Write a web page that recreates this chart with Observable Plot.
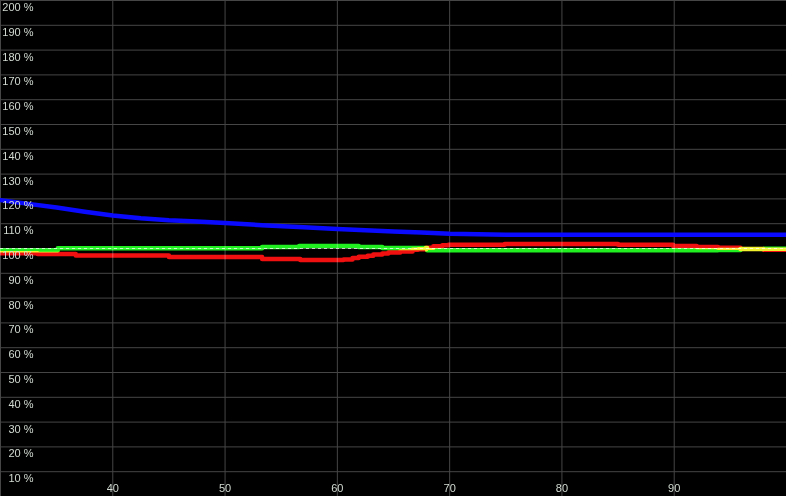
<!DOCTYPE html>
<html>
<head>
<meta charset="utf-8">
<script src="https://cdn.jsdelivr.net/npm/d3@7"></script>
<script src="https://cdn.jsdelivr.net/npm/@observablehq/plot@0.6"></script>
<style>
  html, body { margin: 0; padding: 0; background: #000; }
  #chart { width: 786px; height: 496px; overflow: hidden; }
</style>
</head>
<body>
<div id="chart"></div>
<script>
// Tick values and labels
const xTicks = [40, 50, 60, 70, 80, 90];
const xTickLabels = ["40", "50", "60", "70", "80", "90"];
const yTicks = [10, 20, 30, 40, 50, 60, 70, 80, 90, 100, 110, 120, 130, 140, 150, 160, 170, 180, 190, 200];
const yTickLabels = ["10 %", "20 %", "30 %", "40 %", "50 %", "60 %", "70 %", "80 %", "90 %", "100 %",
  "110 %", "120 %", "130 %", "140 %", "150 %", "160 %", "170 %", "180 %", "190 %", "200 %"];

// Blue series (smooth)
const blueX = [30, 32.5, 35, 37.5, 40, 42.5, 45, 47.5, 50, 53.3, 57, 60, 62.5, 65, 67.5, 70, 75, 80, 85, 90, 95, 100];
const blueY = [119.5, 118.0, 116.5, 114.8, 113.3, 112.2, 111.4, 110.9, 110.3, 109.4, 108.6, 107.9, 107.4, 106.9, 106.5, 105.9, 105.5, 105.5, 105.5, 105.5, 105.5, 105.5];

// Red series (stepped)
const redX = [30, 33.3, 36.7, 45.0, 53.3, 56.7, 60.55, 61.35, 61.9, 62.7, 63.2, 64.0, 64.55, 65.6, 66.7, 67.2, 67.9, 68.55, 69.35, 69.9, 74.9, 85.0, 89.9, 92.0, 93.9, 95.9, 97.95, 100];
const redY = [98.1, 97.8, 97.2, 96.6, 95.8, 95.4, 95.6, 96.2, 96.7, 97.1, 97.6, 98.0, 98.4, 98.8, 99.5, 99.7, 100.3, 100.9, 101.3, 101.5, 101.8, 101.5, 101.0, 100.6, 100.3, 99.8, 99.5, 99.5];

// Green series (stepped)
const greenX = [30, 35.1, 53.3, 56.6, 61.9, 64.0, 68.0, 93.9, 95.9, 97.95, 100];
const greenY = [99.3, 100.1, 100.6, 101.0, 100.6, 100.2, 99.3, 99.4, 99.8, 99.9, 99.9];

const toRows = (xs, ys) => xs.map((x, i) => ({x, y: ys[i]}));
const blue = toRows(blueX, blueY);
const red = toRows(redX, redY);
const green = toRows(greenX, greenY);

const gridColor = "#464646";
const textColor = "#d2dad2";
const font = "Liberation Sans, Arial, sans-serif";

const chart = Plot.plot({
  width: 786,
  height: 496,
  margin: 0,
  style: {background: "#000", fontFamily: font},
  x: {domain: [30, 100], axis: null},
  y: {domain: [0, 200], axis: null},
  marks: [
    Plot.frame({fill: "#000", stroke: null}),
    Plot.ruleY(yTicks, {stroke: gridColor, strokeWidth: 1}),
    Plot.ruleX([30, ...xTicks], {stroke: gridColor, strokeWidth: 1}),
    Plot.ruleY([100], {stroke: "#c4c4c4", strokeWidth: 1, strokeDasharray: "3,3"}),
    Plot.line(green, {x: "x", y: "y", curve: "step-after", stroke: "#20f020", strokeWidth: 4.5, mixBlendMode: "screen"}),
    Plot.line(red, {x: "x", y: "y", curve: "step-after", stroke: "#f01010", strokeWidth: 4.5, mixBlendMode: "screen"}),
    Plot.line(blue, {x: "x", y: "y", curve: "linear", stroke: "#0a0aff", strokeWidth: 4.5}),
    Plot.text(yTicks, {x: 30, y: d => d, text: (d, i) => yTickLabels[i], dx: 33, dy: 10.5,
      textAnchor: "end", lineAnchor: "bottom", fill: textColor, fontSize: 11, fontFamily: font}),
    Plot.text(xTicks, {x: d => d, y: 0, text: (d, i) => xTickLabels[i], dy: -5,
      textAnchor: "middle", lineAnchor: "bottom", fill: textColor, fontSize: 11, fontFamily: font})
  ]
});
document.getElementById("chart").appendChild(chart);
</script>
</body>
</html>
